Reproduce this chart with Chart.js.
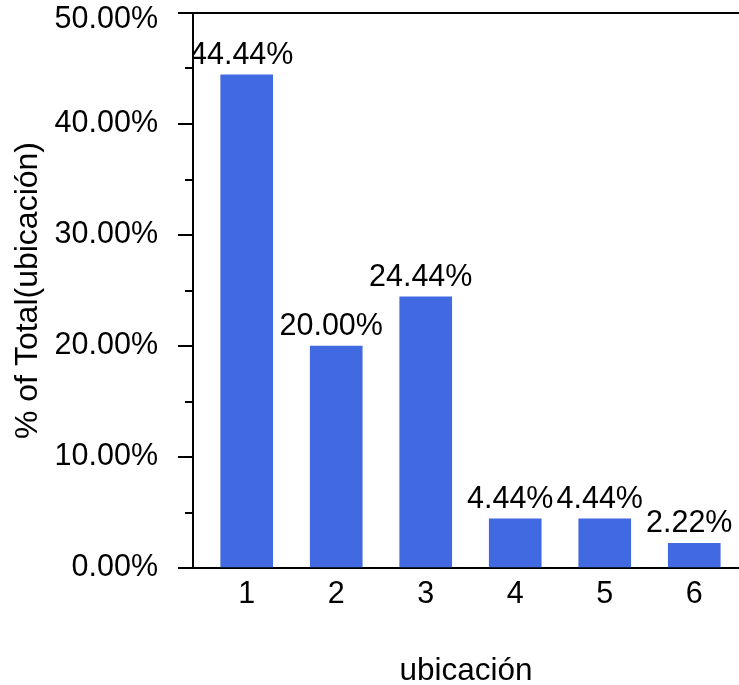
<!DOCTYPE html>
<html>
<head>
<meta charset="utf-8">
<script src="https://cdn.jsdelivr.net/npm/chart.js@4/dist/chart.umd.min.js"></script>
<style>
  html, body { margin: 0; padding: 0; background: #ffffff; }
  #wrap { width: 739px; height: 685px; }
</style>
</head>
<body>
<div id="wrap"><canvas id="c" width="739" height="685"></canvas></div>
<script>
const categories = [1, 2, 3, 4, 5, 6];
const values = [44.44, 20.00, 24.44, 4.44, 4.44, 2.22];
const yTicks = [0, 10, 20, 30, 40, 50];
const yMinorTicks = [5, 15, 25, 35, 45];
const xTitle = 'ubicación';
const yTitle = '% of Total(ubicación)';

const FONT = '"Liberation Sans", Arial, Helvetica, sans-serif';
const FS = 30.5;
const fmtPct = v => Number(v).toFixed(2) + '%';
const yTopValue = yTicks[yTicks.length - 1];

const minorTicksPlugin = {
  id: 'minorTicks',
  afterDraw(chart) {
    const y = chart.scales.y;
    const ctx = chart.ctx;
    const left = chart.chartArea.left;
    ctx.save();
    ctx.strokeStyle = '#000';
    ctx.lineWidth = 2;
    yMinorTicks.forEach(v => {
      const py = Math.round(y.getPixelForValue(v));
      ctx.beginPath();
      ctx.moveTo(left - 8, py);
      ctx.lineTo(left, py);
      ctx.stroke();
    });
    // top tick label, kept inside the canvas like the reference
    ctx.fillStyle = '#000';
    ctx.font = FS + 'px ' + FONT;
    ctx.textAlign = 'right';
    ctx.textBaseline = 'middle';
    ctx.fillText(fmtPct(yTopValue), left - 35, y.getPixelForValue(yTopValue) + 7);
    ctx.restore();
  }
};

const barLabelsPlugin = {
  id: 'barLabels',
  afterDatasetsDraw(chart) {
    const ctx = chart.ctx;
    const area = chart.chartArea;
    const meta = chart.getDatasetMeta(0);
    ctx.save();
    ctx.beginPath();
    ctx.rect(area.left + 1, 0, chart.width - area.left, chart.height);
    ctx.clip();
    ctx.fillStyle = '#000';
    ctx.font = FS + 'px ' + FONT;
    ctx.textAlign = 'center';
    ctx.textBaseline = 'alphabetic';
    meta.data.forEach((bar, i) => {
      ctx.fillText(fmtPct(values[i]), bar.x - 5, bar.y - 11);
    });
    ctx.restore();
  }
};

new Chart(document.getElementById('c'), {
  type: 'bar',
  data: {
    datasets: [{
      data: categories.map((c, i) => ({ x: c, y: values[i] })),
      backgroundColor: '#4169E1',
      borderWidth: 0,
      barThickness: 52
    }]
  },
  options: {
    responsive: false,
    animation: false,
    devicePixelRatio: 1,
    layout: { padding: { top: 13, left: 0, right: 0, bottom: 0 } },
    plugins: { legend: { display: false }, tooltip: { enabled: false } },
    scales: {
      x: {
        type: 'linear',
        offset: false,
        min: 0.4,
        max: 6.5,
        afterBuildTicks(scale) { scale.ticks = categories.map(v => ({ value: v })); },
        afterFit(scale) { scale.height = 117; scale.paddingLeft = 0; scale.paddingRight = 0; },
        ticks: {
          color: '#000',
          font: { family: FONT, size: FS },
          padding: 8,
          maxRotation: 0,
          autoSkip: false,
          callback: v => String(v)
        },
        grid: { display: false, drawTicks: false, offset: false },
        border: { display: true, color: '#000', width: 2 },
        title: {
          display: true,
          text: xTitle,
          color: '#000',
          font: { family: FONT, size: 31.5 },
          padding: { top: 0, bottom: -5 }
        }
      },
      y: {
        min: 0,
        max: 50,
        afterBuildTicks(scale) { scale.ticks = yTicks.map(v => ({ value: v })); },
        afterFit(scale) { scale.width = 193; scale.paddingTop = 0; scale.paddingBottom = 0; },
        ticks: {
          color: '#000',
          font: { family: FONT, size: FS },
          padding: 20,
          autoSkip: false,
          callback: v => (v === yTopValue ? '' : fmtPct(v))
        },
        grid: {
          drawOnChartArea: true,
          color: ctx => (ctx.tick && ctx.tick.value === yTopValue) ? '#000' : 'rgba(0,0,0,0)',
          lineWidth: 2,
          tickLength: 15,
          tickColor: '#000',
          tickWidth: 2
        },
        border: { display: true, color: '#000', width: 2 },
        title: {
          display: true,
          text: yTitle,
          color: '#000',
          font: { family: FONT, size: 32 },
          padding: { top: 9, bottom: 0 }
        }
      }
    }
  },
  plugins: [minorTicksPlugin, barLabelsPlugin]
});
</script>
</body>
</html>
